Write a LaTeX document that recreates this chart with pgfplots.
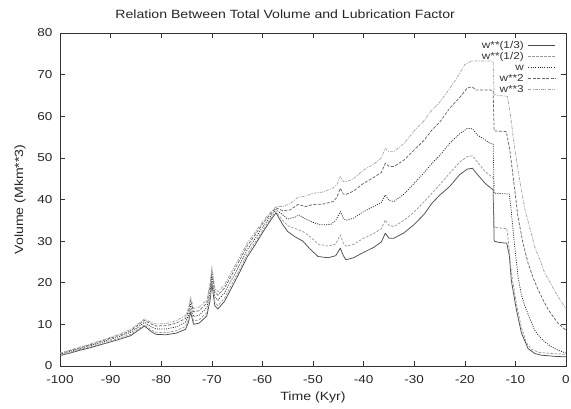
\documentclass[border=0pt]{standalone}
\usepackage{pgfplots}
\pgfplotsset{compat=1.18}
\usepackage{fontspec}
\setmainfont[FakeStretch=1.18]{Liberation Sans}
\begin{document}
\begin{tikzpicture}
\begin{axis}[
  width=506bp, height=333bp, scale only axis,
  xmin=-100, xmax=0, ymin=0, ymax=80,
  xtick={-100,-90,...,0}, ytick={0,10,...,80},
  /pgf/number format/assume math mode=true,
  tick label style={font=\fontsize{11.5}{13}\selectfont, black!85},
  xticklabel style={yshift=-5.5bp},
  yticklabel style={xshift=-4bp},
  label style={font=\fontsize{12}{14}\selectfont, black!85},
  title style={font=\fontsize{12}{14}\selectfont, black!85, at={(axis description cs:0.445,1.038)}, anchor=center},
  xlabel style={at={(axis description cs:0.5,-0.094)}, anchor=center},
  ylabel style={at={(axis description cs:-0.079,0.5)}, anchor=center},
  title={Relation Between Total Volume and Lubrication Factor},
  xlabel={Time (Kyr)}, ylabel={Volume (Mkm**3)},
  axis line style={black!80, line width=0.8pt},
  major tick length=5bp,
  tick style={black!80, line width=0.6pt},
  legend plot pos=right,
  legend cell align=right,
  legend style={at={(rel axis cs:1,1)}, anchor=north east, xshift=-10bp, yshift=-7bp, draw=none, fill=none,
    font=\fontsize{10}{11}\selectfont, text=black!80, row sep=0.2bp, column sep=4bp, inner sep=0pt,
    nodes={text height=7.6bp, text depth=2.6bp, inner sep=0.3bp}},
  legend image code/.code={\draw[#1] (0bp,0bp) -- (27bp,0bp);},
  every axis plot/.append style={line width=0.75pt, line join=round},
]
\addplot[black!70] coordinates {
(-100,2.5)(-98,3.1)(-96,3.8)(-94,4.4)(-92,5.1)(-90,5.8)(-88,6.5)(-86,7.3)(-84.5,8.6)(-83.3,9.6)(-82,8.3)(-81,7.6)(-79,7.5)(-77,7.9)(-75.2,8.8)(-74.6,10.5)(-74.2,13.0)(-73.6,10.0)(-72.5,10.3)(-71,12.0)(-70.3,16.0)(-70.0,19.8)(-69.4,14.5)(-68.8,13.7)(-67.5,15.5)(-66,19.0)(-64.5,22.5)(-63,26.2)(-61.5,29.0)(-60,32.0)(-58.5,34.8)(-57.3,36.8)
(-56,34.0)(-55,32.3)(-53.5,31.0)(-52,30.0)(-50.5,28.0)(-49,26.3)(-47,26.0)(-45.5,26.5)(-44.6,28.3)(-44,26.5)(-43.5,25.5)(-42,26.0)(-40,27.3)(-38,28.5)(-36.5,29.8)(-35.7,31.9)(-35,30.7)(-34,30.7)(-32,32.0)(-30,34.0)(-28,36.5)(-26.5,39.1)(-25,41.0)(-23,43.1)(-21,46.0)(-19.5,47.3)(-18.5,47.5)(-17.5,46.0)(-16,43.9)(-14.8,42.7)(-14.4,42.3)(-14.2,30.0)(-13.3,29.7)(-11.7,29.5)(-11.2,26.5)(-10.8,20.5)(-9.8,13.5)(-8.8,7.9)(-7.5,4.2)(-6.2,3.0)(-4.9,2.6)(-2,2.3)(0,2.2)
};
\addlegendentry{w**(1/3)}
\addplot[black!40, dash pattern=on 2.5pt off 1.5pt] coordinates {
(-100,2.6)(-98,3.2)(-96,4.0)(-94,4.6)(-92,5.3)(-90,6.0)(-88,6.8)(-86,7.6)(-84.5,8.9)(-83.3,9.9)(-82,8.7)(-81,8.1)(-79,8.0)(-77,8.5)(-75.2,9.5)(-74.6,11.2)(-74.2,13.7)(-73.6,10.8)(-72.5,11.1)(-71,12.8)(-70.3,16.8)(-70.0,20.6)(-69.4,15.3)(-68.8,14.5)(-67.5,16.3)(-66,19.8)(-64.5,23.2)(-63,26.9)(-61.5,29.6)(-60,32.5)(-58.5,35.2)(-57.3,37.1)
(-56,35.0)(-55,33.7)(-53.5,33.0)(-52,32.3)(-50.5,31.0)(-49,29.3)(-47,28.8)(-45.5,29.3)(-44.6,31.5)(-44,29.5)(-43.5,28.8)(-42,29.2)(-40,30.7)(-38,31.8)(-36.5,33.0)(-35.7,35.1)(-35,33.8)(-34,33.5)(-32,35.0)(-30,37.0)(-28,39.5)(-26.5,41.5)(-25,43.5)(-23,46.3)(-21,49.0)(-19.5,50.3)(-18.5,50.5)(-17.5,49.0)(-16,46.7)(-14.8,45.6)(-14.4,45.2)(-14.2,33.3)(-11.7,33.0)(-11.3,29.0)(-10.8,22.5)(-9.8,15.0)(-8.8,9.2)(-7.8,5.5)(-6.8,4.0)(-5.5,3.3)(-3,3.0)(0,2.8)
};
\addlegendentry{w**(1/2)}
\addplot[black!85, dash pattern=on 1pt off 1.3pt] coordinates {
(-100,2.8)(-98,3.5)(-96,4.2)(-94,4.9)(-92,5.6)(-90,6.4)(-88,7.2)(-86,8.1)(-84.5,9.4)(-83.3,10.5)(-82,9.4)(-81,8.9)(-79,8.9)(-77,9.4)(-75.2,10.5)(-74.6,12.2)(-74.2,14.8)(-73.6,11.9)(-72.5,12.2)(-71,14.0)(-70.3,18.0)(-70.0,21.9)(-69.4,16.6)(-68.8,15.8)(-67.5,17.5)(-66,20.9)(-64.5,24.3)(-63,27.9)(-61.5,30.5)(-60,33.3)(-58.5,35.8)(-57.3,37.6)
(-56,36.3)(-55,35.3)(-53.5,35.8)(-52.8,36.3)(-51.5,35.3)(-50,34.5)(-48.5,33.9)(-46.5,34.0)(-45.5,35.0)(-44.6,37.1)(-44,35.5)(-43.5,35.0)(-42,35.5)(-40,37.1)(-38,38.3)(-36.5,39.3)(-35.7,41.1)(-35,39.8)(-34,39.5)(-32,41.3)(-30,43.9)(-28,46.5)(-26.5,48.7)(-25,50.5)(-23,53.5)(-21,55.8)(-19.5,57.1)(-18.5,57.0)(-17.5,55.5)(-16,54.3)(-15,53.5)(-14.4,53.3)(-14.2,41.5)(-11.2,41.3)(-10.8,37.0)(-10.4,31.9)(-9.5,21.5)(-8.8,17.0)(-8.1,14.3)(-7,11.0)(-6.2,8.6)(-5.2,7.0)(-4.2,5.8)(-3,4.7)(-1.6,3.8)(0,3.1)
};
\addlegendentry{w}
\addplot[black!60, dash pattern=on 3pt off 1.5pt] coordinates {
(-100,3.0)(-98,3.7)(-96,4.4)(-94,5.1)(-92,5.9)(-90,6.7)(-88,7.5)(-86,8.5)(-84.5,9.9)(-83.3,11.0)(-82,10.1)(-81,9.6)(-79,9.7)(-77,10.3)(-75.2,11.4)(-74.6,13.2)(-74.2,15.9)(-73.6,13.0)(-72.5,13.3)(-71,15.1)(-70.3,19.2)(-70.0,23.1)(-69.4,17.8)(-68.8,17.0)(-67.5,18.7)(-66,22.0)(-64.5,25.4)(-63,28.9)(-61.5,31.4)(-60,34.1)(-58.5,36.4)(-57.3,38.0)
(-56,37.3)(-54.5,37.5)(-53,38.8)(-51.5,38.3)(-50,38.8)(-48,38.9)(-46,39.5)(-45.3,40.5)(-44.6,42.7)(-44,41.3)(-43.5,41.2)(-42,42.0)(-40,43.9)(-38,45.3)(-36.5,46.5)(-35.7,48.7)(-35,48.0)(-34,47.9)(-32,49.5)(-30,51.9)(-28,54.3)(-26.5,56.7)(-25,58.5)(-23,61.9)(-21,64.5)(-19.5,66.8)(-18.6,67.1)(-17.8,66.3)(-15,66.3)(-14.4,66.2)(-14.2,56.5)(-11.8,56.3)(-11.1,51.9)(-10.3,44.0)(-9.5,35.9)(-8.5,29.5)(-7.5,24.7)(-6.5,21.2)(-5.5,18.3)(-4.5,15.8)(-3.5,13.5)(-2.5,11.8)(-1.6,10.3)(-0.7,9.3)(0,8.6)
};
\addlegendentry{w**2}
\addplot[black!35, dash pattern=on 3pt off 1.2pt on 1pt off 1.2pt] coordinates {
(-100,3.1)(-98,3.8)(-96,4.6)(-94,5.3)(-92,6.1)(-90,6.9)(-88,7.8)(-86,8.8)(-84.5,10.2)(-83.3,11.3)(-82,10.5)(-81,10.1)(-79,10.2)(-77,10.9)(-75.2,12.1)(-74.6,13.9)(-74.2,16.6)(-73.6,13.8)(-72.5,14.1)(-71,15.9)(-70.3,20.0)(-70.0,23.9)(-69.4,18.6)(-68.8,17.8)(-67.5,19.5)(-66,22.8)(-64.5,26.1)(-63,29.6)(-61.5,32.0)(-60,34.6)(-58.5,36.8)(-57.3,38.3)
(-56,38.3)(-54.5,39.0)(-53,40.5)(-51.5,40.8)(-50,41.5)(-48,41.8)(-46,42.8)(-45.3,43.5)(-44.6,45.5)(-44,44.3)(-43.3,44.3)(-42,45.0)(-40,47.1)(-38,48.5)(-36.5,50.0)(-35.7,52.3)(-35,51.5)(-34,51.5)(-32,53.5)(-30,56.5)(-28,59.0)(-26.5,61.5)(-25,63.3)(-23.2,66.3)(-21.5,69.3)(-20,72.4)(-18.6,73.3)(-15,73.3)(-14.4,73.2)(-14.2,65.2)(-13.5,65.0)(-11.6,64.8)(-11.0,60.5)(-10.1,51.9)(-9,43.5)(-8.1,37.5)(-7,32.5)(-6.2,28.7)(-5,25.0)(-4.2,22.3)(-3,19.8)(-2.2,17.9)(-1,15.6)(0,13.8)
};
\addlegendentry{w**3}
\end{axis}
\pgfresetboundingbox
\useasboundingbox ([shift={(-60bp,-43bp)}]current axis.south west) rectangle ([shift={(5bp,33bp)}]current axis.north east);
\end{tikzpicture}
\end{document}
